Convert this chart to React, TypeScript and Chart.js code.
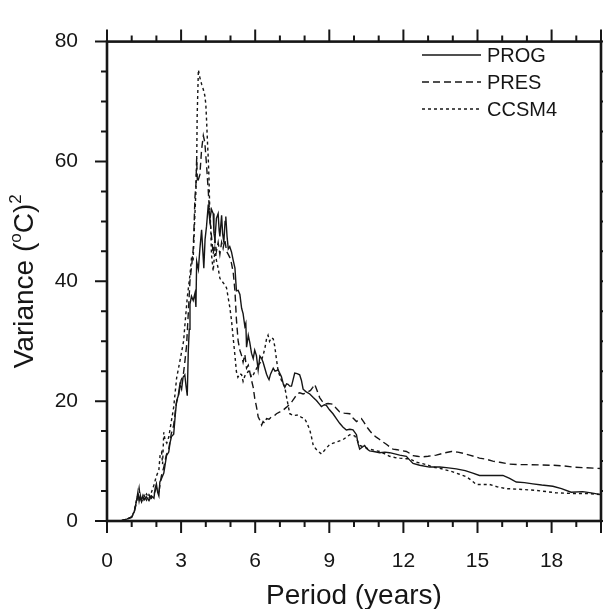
import { useEffect, useRef } from 'react';
import { Chart, registerables } from 'chart.js';

Chart.register(...registerables);

// ---- data (period in years, variance in (°C)^2) ----
const progPeriod = [0.4,0.6,0.8,1.0,1.1,1.2,1.25,1.3,1.35,1.4,1.45,1.5,1.6,1.7,1.8,1.9,1.95,2.0,2.05,2.1,2.14,2.2,2.3,2.41,2.5,2.55,2.61,2.7,2.76,2.82,2.88,2.95,3.02,3.08,3.15,3.2,3.25,3.29,3.33,3.36,3.42,3.49,3.56,3.6,3.63,3.7,3.76,3.83,3.88,3.92,3.97,4.03,4.1,4.16,4.23,4.3,4.33,4.37,4.43,4.5,4.54,4.57,4.64,4.68,4.73,4.78,4.81,4.86,4.91,4.97,5.04,5.11,5.18,5.24,5.31,5.38,5.45,5.51,5.58,5.62,5.65,5.72,5.78,5.85,5.92,5.98,6.05,6.12,6.19,6.26,6.32,6.39,6.46,6.52,6.56,6.62,6.73,6.8,6.93,7.0,7.06,7.13,7.2,7.27,7.33,7.4,7.47,7.53,7.6,7.7,7.8,7.87,7.94,8.05,8.21,8.35,8.48,8.6,8.68,8.8,8.88,9.0,9.15,9.3,9.42,9.55,9.69,9.83,9.96,10.1,10.16,10.23,10.33,10.43,10.53,10.63,10.8,11.04,11.25,11.44,11.65,11.85,12.12,12.25,12.39,12.66,13.06,13.47,13.74,14.14,14.5,14.81,15.08,15.5,16.03,16.3,16.57,16.9,17.24,17.6,18.05,18.4,18.79,19.26,19.6,20];
const progVariance = [0,0.1,0.3,0.7,1.5,3.5,4.8,3.3,4.3,3.4,4.2,3.5,4.0,3.4,4.2,3.8,5.5,6.2,4.8,4.2,6.5,7.0,8.0,10.9,11.5,13.0,14.1,14.5,17.5,20.1,20.8,22.8,22.0,24.0,24.4,22.5,20.9,28.2,32.0,36.2,37.5,36.8,38.0,35.7,43.3,42.0,45.4,48.6,45.0,42.2,47.0,49.2,52.8,50.2,52.0,51.3,48.0,47.0,50.5,51.3,48.5,47.5,51.0,48.0,46.5,50.0,50.8,47.5,45.4,45.8,44.9,43.5,42.2,38.4,38.5,37.8,35.5,34.6,32.5,33.0,29.0,31.0,29.8,28.0,27.1,28.5,27.6,25.2,27.5,27.1,26.5,25.5,24.5,23.9,23.6,24.5,25.5,25.0,25.2,24.6,24.1,23.0,22.3,22.9,22.8,22.5,22.5,23.5,24.7,24.6,24.4,23.5,22.0,21.6,21.2,20.6,20.1,19.5,19.1,19.4,19.3,18.6,17.9,17.0,16.3,15.7,15.2,15.3,15.2,14.4,13.0,12.0,12.3,12.6,12.0,11.7,11.6,11.4,11.5,11.4,11.2,11.0,10.8,10.2,9.6,9.3,9.0,9.0,8.9,8.7,8.4,8.0,7.6,7.6,7.6,7.1,6.5,6.4,6.2,6.0,5.8,5.4,4.8,4.9,4.7,4.4];

const presPeriod = [0.4,0.6,0.8,1.0,1.1,1.2,1.25,1.3,1.35,1.4,1.5,1.6,1.7,1.8,1.9,2.0,2.1,2.2,2.3,2.4,2.5,2.6,2.7,2.8,2.9,3.0,3.09,3.15,3.22,3.29,3.36,3.43,3.49,3.52,3.56,3.6,3.63,3.66,3.7,3.76,3.83,3.9,3.96,4.03,4.1,4.16,4.23,4.3,4.37,4.43,4.5,4.57,4.64,4.7,4.77,4.84,4.91,4.97,5.04,5.11,5.18,5.24,5.31,5.38,5.45,5.51,5.58,5.65,5.72,5.78,5.85,5.92,5.98,6.05,6.12,6.19,6.26,6.32,6.39,6.46,6.56,6.66,6.76,6.86,7.0,7.13,7.27,7.4,7.5,7.6,7.7,7.8,7.94,8.08,8.24,8.33,8.41,8.5,8.61,8.71,8.81,8.95,9.15,9.28,9.42,9.6,9.83,9.96,10.1,10.2,10.3,10.4,10.5,10.63,10.77,10.9,11.04,11.17,11.31,11.44,11.58,11.75,11.98,12.12,12.25,12.39,12.55,12.73,13.0,13.33,13.6,13.94,14.2,14.41,14.68,15.08,15.36,15.62,15.9,16.3,16.7,17.1,17.6,18.05,18.5,18.86,19.3,19.8,20];
const presVariance = [0,0.1,0.3,0.6,1.4,3.2,4.2,5.5,3.8,3.2,4.3,3.5,4.4,3.8,4.5,5.5,4.8,7.5,9.0,11.0,12.0,14.5,16.0,19.5,21.0,23.5,24.4,26.5,29.2,34.6,40.1,42.7,45.4,48.6,54.0,56.0,60.5,56.5,57.0,57.8,62.0,64.3,63.2,59.4,55.1,50.8,47.5,44.5,47.0,45.0,46.5,44.5,46.5,45.5,47.0,45.0,44.5,44.0,43.0,41.5,38.4,33.6,30.0,28.5,27.6,26.5,27.8,25.5,26.0,24.9,23.5,22.3,20.5,19.1,17.4,16.8,16.0,16.6,16.3,17.1,17.0,17.4,17.5,17.9,18.2,18.5,19.0,19.5,20.0,20.6,21.2,21.4,21.2,21.4,21.8,22.3,22.8,21.8,20.6,20.0,19.5,19.6,19.5,18.8,18.2,18.0,17.9,17.2,16.6,16.9,17.1,16.5,15.8,15.1,14.4,14.0,13.6,13.2,12.8,12.4,12.0,11.9,11.7,11.6,11.3,10.9,10.8,10.7,10.8,11.0,11.3,11.6,11.5,11.3,11.0,10.5,10.3,10.0,9.8,9.5,9.4,9.4,9.35,9.3,9.2,9.0,8.9,8.8,8.75];

const ccsmPeriod = [0.4,0.6,0.8,1.0,1.1,1.2,1.25,1.3,1.4,1.5,1.6,1.7,1.8,1.9,2.0,2.1,2.15,2.21,2.25,2.3,2.35,2.42,2.5,2.6,2.7,2.82,2.92,3.02,3.1,3.15,3.25,3.36,3.43,3.49,3.52,3.56,3.6,3.63,3.65,3.7,3.76,3.83,3.9,3.96,4.0,4.03,4.07,4.1,4.13,4.16,4.2,4.23,4.3,4.37,4.43,4.5,4.57,4.64,4.75,4.84,4.97,5.04,5.11,5.18,5.24,5.3,5.38,5.45,5.51,5.58,5.65,5.72,5.78,5.85,5.92,6.0,6.12,6.22,6.32,6.4,6.46,6.52,6.58,6.66,6.73,6.79,6.86,6.93,7.06,7.2,7.3,7.4,7.55,7.74,7.87,8.0,8.1,8.21,8.28,8.35,8.5,8.68,8.85,9.02,9.3,9.56,9.7,9.83,10.03,10.13,10.23,10.43,10.63,10.83,11.04,11.25,11.44,11.65,11.85,12.12,12.25,12.53,12.75,12.94,13.2,13.47,13.74,14.0,14.27,14.54,14.75,14.95,15.2,15.49,15.8,16.16,16.7,17.38,17.8,18.18,18.86,19.4,20];
const ccsmVariance = [0,0.1,0.3,0.7,1.6,3.6,4.3,3.6,4.0,3.6,4.5,3.8,4.8,6.0,7.5,8.5,11.0,11.5,9.5,14.8,13.5,13.0,14.0,16.5,19.0,23.9,26.0,28.2,30.0,32.5,37.3,41.1,44.3,43.8,47.0,51.3,55.0,59.4,67.5,75.3,74.0,72.9,72.0,71.0,69.6,67.0,63.0,60.5,57.0,52.0,49.0,44.5,41.7,45.4,43.5,42.2,40.5,40.1,39.5,38.9,35.7,33.5,30.5,27.6,24.9,24.0,24.6,24.4,23.3,24.2,24.5,25.0,24.9,24.0,24.4,25.0,26.0,26.5,27.6,29.0,30.4,31.0,30.0,30.6,30.4,29.2,27.0,25.0,23.5,22.3,20.0,17.9,17.6,17.7,17.3,17.1,16.3,15.2,14.0,12.6,11.8,11.2,12.0,12.8,13.2,13.6,14.0,14.4,14.2,13.5,12.6,12.3,12.0,11.8,11.6,11.2,10.8,10.6,10.5,10.4,10.4,9.8,9.6,9.4,9.0,8.8,8.5,8.2,7.8,7.4,6.8,6.1,6.1,6.1,5.7,5.4,5.3,5.1,4.9,4.7,4.6,4.6,4.4];

const seriesLabels = ['PROG', 'PRES', 'CCSM4'];
const xTickValues = [0, 3, 6, 9, 12, 15, 18];
const xMinorValues = [0,1,2,3,4,5,6,7,8,9,10,11,12,13,14,15,16,17,18,19,20];
const yTickValues = [0, 20, 40, 60, 80];
const yMinorValues = [0,5,10,15,20,25,30,35,40,45,50,55,60,65,70,75,80];
const xTitle = 'Period (years)';

const INK = '#161616';
const FONT = '"Liberation Sans", Arial, Helvetica, sans-serif';

const toPoints = (xs: number[], ys: number[]) => xs.map((x, i) => ({ x, y: ys[i] }));

const decorPlugin = {
  id: 'decor',
  afterDraw(chart: any) {
    const { ctx, chartArea: a, scales } = chart;
    const xs = scales.x;
    const ys = scales.y;
    ctx.save();
    ctx.strokeStyle = INK;
    ctx.lineWidth = 2;
    ctx.lineCap = 'butt';
    ctx.setLineDash([]);
    // outward tick marks on four sides
    for (const v of xMinorValues) {
      const p = xs.getPixelForValue(v);
      const len = xTickValues.includes(v) || v === 20 ? 12 : 6;
      ctx.beginPath();
      ctx.moveTo(p, a.bottom);
      ctx.lineTo(p, a.bottom + len);
      ctx.moveTo(p, a.top);
      ctx.lineTo(p, a.top - len);
      ctx.stroke();
    }
    for (const v of yMinorValues) {
      const p = ys.getPixelForValue(v);
      const len = yTickValues.includes(v) ? 12 : 6;
      ctx.beginPath();
      ctx.moveTo(a.left, p);
      ctx.lineTo(a.left - len, p);
      ctx.moveTo(a.right, p);
      ctx.lineTo(a.right + len, p);
      ctx.stroke();
    }
    // frame
    ctx.lineWidth = 2.6;
    ctx.strokeRect(a.left, a.top, a.right - a.left, a.bottom - a.top);

    // legend
    ctx.lineWidth = 1.4;
    ctx.fillStyle = INK;
    ctx.font = `20px ${FONT}`;
    ctx.textAlign = 'left';
    ctx.textBaseline = 'alphabetic';
    chart.data.datasets.forEach((ds: any, i: number) => {
      const y = 55 + i * 27;
      ctx.setLineDash(ds.borderDash || []);
      ctx.beginPath();
      ctx.moveTo(422, y);
      ctx.lineTo(481, y);
      ctx.stroke();
      ctx.setLineDash([]);
      ctx.fillText(ds.label, 487, y + 7);
    });

    // x title
    ctx.font = `28px ${FONT}`;
    ctx.textAlign = 'center';
    ctx.fillText(xTitle, (a.left + a.right) / 2, 604);

    // y title with superscripts
    const parts = [
      { t: 'Variance (', s: 28, dy: 0 },
      { t: 'o', s: 17, dy: -12 },
      { t: 'C)', s: 28, dy: 0 },
      { t: '2', s: 17, dy: -12 },
    ];
    let total = 0;
    const widths = parts.map((p) => {
      ctx.font = `${p.s}px ${FONT}`;
      const w = ctx.measureText(p.t).width;
      total += w;
      return w;
    });
    ctx.translate(33, (a.top + a.bottom) / 2);
    ctx.rotate(-Math.PI / 2);
    ctx.textAlign = 'left';
    let cx = -total / 2;
    parts.forEach((p, i) => {
      ctx.font = `${p.s}px ${FONT}`;
      ctx.fillText(p.t, cx, p.dy);
      cx += widths[i];
    });
    ctx.restore();
  },
};

export default function App() {
  const ref = useRef<HTMLCanvasElement>(null);
  useEffect(() => {
    if (!ref.current) return;
    const common = { pointRadius: 0, borderColor: INK, borderWidth: 1.4, fill: false, tension: 0 };
    const chart = new Chart(ref.current, {
      type: 'line',
      data: {
        datasets: [
          { ...common, label: seriesLabels[0], data: toPoints(progPeriod, progVariance), borderDash: [] },
          { ...common, label: seriesLabels[1], data: toPoints(presPeriod, presVariance), borderDash: [7, 4] },
          { ...common, label: seriesLabels[2], data: toPoints(ccsmPeriod, ccsmVariance), borderDash: [3, 3] },
        ],
      },
      options: {
        animation: false,
        responsive: false,
        devicePixelRatio: 1,
        layout: { padding: { top: 25, right: 2, left: 0, bottom: 0 } },
        plugins: { legend: { display: false }, tooltip: { enabled: false } },
        scales: {
          x: {
            type: 'linear',
            min: 0,
            max: 20,
            grid: { display: false, drawTicks: false },
            border: { display: false },
            ticks: {
              stepSize: 3,
              includeBounds: false,
              autoSkip: false,
              maxRotation: 0,
              padding: 28,
              color: INK,
              font: { size: 21, family: FONT },
              callback: (v: any) => (xTickValues.includes(Number(v)) ? String(v) : ''),
            },
            afterFit: (s: any) => { s.height = 88; },
          },
          y: {
            type: 'linear',
            min: 0,
            max: 80,
            grid: { display: false, drawTicks: false },
            border: { display: false },
            ticks: {
              stepSize: 20,
              padding: 29,
              color: INK,
              font: { size: 21, family: FONT },
              callback: (v: any) => (yTickValues.includes(Number(v)) ? String(v) : ''),
            },
            afterFit: (s: any) => { s.width = 107; },
          },
        },
      },
      plugins: [decorPlugin],
    });
    return () => chart.destroy();
  }, []);
  return (
    <div style={{ position: 'fixed', left: 0, top: 0, width: 603, height: 609, background: '#fff' }}>
      <canvas ref={ref} width={603} height={609} style={{ display: 'block' }} />
    </div>
  );
}
